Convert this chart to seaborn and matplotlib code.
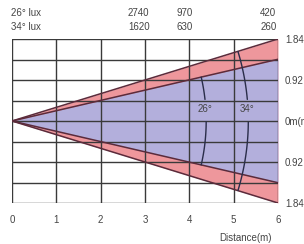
import numpy as np
import pandas as pd
import matplotlib
matplotlib.use("Agg")
import matplotlib.pyplot as plt
import matplotlib.transforms as mtransforms
import seaborn as sns

# ---- data ----
distance = [0, 6]
edge_26 = [0, 1.385]        # beam half-width (m) of 26° beam
edge_34 = [0, 1.84]         # beam half-width (m) of 34° beam
beam_names = ["26°", "34°"]
beam_half_angles = [13, 17]
arc_radius = [4.38, 5.33]
x_ticks = [0, 1, 2, 3, 4, 5, 6]
y_grid = [-1.84, -1.38, -0.92, -0.46, 0, 0.46, 0.92, 1.38, 1.84]
y_labels = ["1.84", "", "0.92", "", "0m(m)", "", "0.92", "", "1.84"]
lux_26 = ["2740", "970", "420"]
lux_34 = ["1620", "630", "260"]
lux_x = [2.86, 3.9, 5.78]

sns.set_style("white")
plt.rcParams["font.family"] = ["Liberation Sans", "DejaVu Sans"]
TXT = "#444444"

fig = plt.figure(figsize=(3.04, 2.44), dpi=100)
W, H = 304, 244
L, R, T, B = 12, 278, 39, 203
ax = fig.add_axes([L / W, 1 - B / H, (R - L) / W, (B - T) / H])
ax.set_xlim(0, 6)
ax.set_ylim(-1.84, 1.84)

pink = "#ee979c"
purple = "#b3afdc"
edge_c = "#5b2b3b"

df = pd.DataFrame({"d": distance, "e26": edge_26, "e34": edge_34})
e26 = np.array(edge_26)
e34 = np.array(edge_34)
ax.fill_between(distance, -e34, e34, color=pink, lw=0, zorder=1)
ax.fill_between(distance, -e26, e26, color=purple, lw=0, zorder=1.1)

# grid
for x in x_ticks:
    ax.axvline(x, color="#3a3a3a", lw=1.0, zorder=2)
for y in y_grid:
    ax.axhline(y, color="#3a3a3a", lw=1.0, zorder=2)

# beam edges
for col in ["e26", "e34"]:
    sns.lineplot(x=df["d"], y=df[col], ax=ax, color=edge_c, lw=1.1, zorder=3)
    sns.lineplot(x=df["d"], y=-df[col], ax=ax, color=edge_c, lw=1.1, zorder=3)

# arcs with label gap
for name, ha_deg, r in zip(beam_names, beam_half_angles, arc_radius):
    th = np.radians(np.linspace(-ha_deg, ha_deg, 200))
    xs, ys = r * np.cos(th), r * np.sin(th)
    up = ys > 0.48
    lo = ys < -0.01
    ax.plot(xs[up], ys[up], color="#2a2d4a", lw=1.0, zorder=4)
    ax.plot(xs[lo], ys[lo], color="#2a2d4a", lw=1.0, zorder=4)
    ax.text(r - 0.03, 0.27, name, ha="center", va="center", fontsize=7,
            color=TXT, zorder=5)

for s in ax.spines.values():
    s.set_visible(False)

ax.set_xticks(x_ticks)
ax.set_xticklabels([str(v) for v in x_ticks])
ax.set_yticks(y_grid)
ax.set_yticklabels(y_labels)
ax.yaxis.tick_right()
ax.tick_params(axis="x", length=0, pad=8.3, labelsize=7, labelcolor=TXT)
ax.tick_params(axis="y", length=0, pad=5, labelsize=7, labelcolor=TXT,
               left=False, right=False, labelleft=False, labelright=True)
ax.set_xlabel("")
ax.set_ylabel("")

# lux header
trans = mtransforms.blended_transform_factory(ax.transData, fig.transFigure)
fig.text(11 / W, 1 - 12.7 / H, "26° lux", ha="left", va="center", fontsize=7, color=TXT)
fig.text(11 / W, 1 - 27 / H, "34° lux", ha="left", va="center", fontsize=7, color=TXT)
for x, a, b in zip(lux_x, lux_26, lux_34):
    ax.text(x, 1 - 12.7 / H, a, transform=trans, ha="center", va="center",
            fontsize=7, color=TXT)
    ax.text(x, 1 - 27 / H, b, transform=trans, ha="center", va="center",
            fontsize=7, color=TXT)

fig.text(245 / W, 1 - 238 / H, "Distance(m)", ha="center", va="center",
         fontsize=7, color=TXT)

fig.savefig("out.png", dpi=100)
